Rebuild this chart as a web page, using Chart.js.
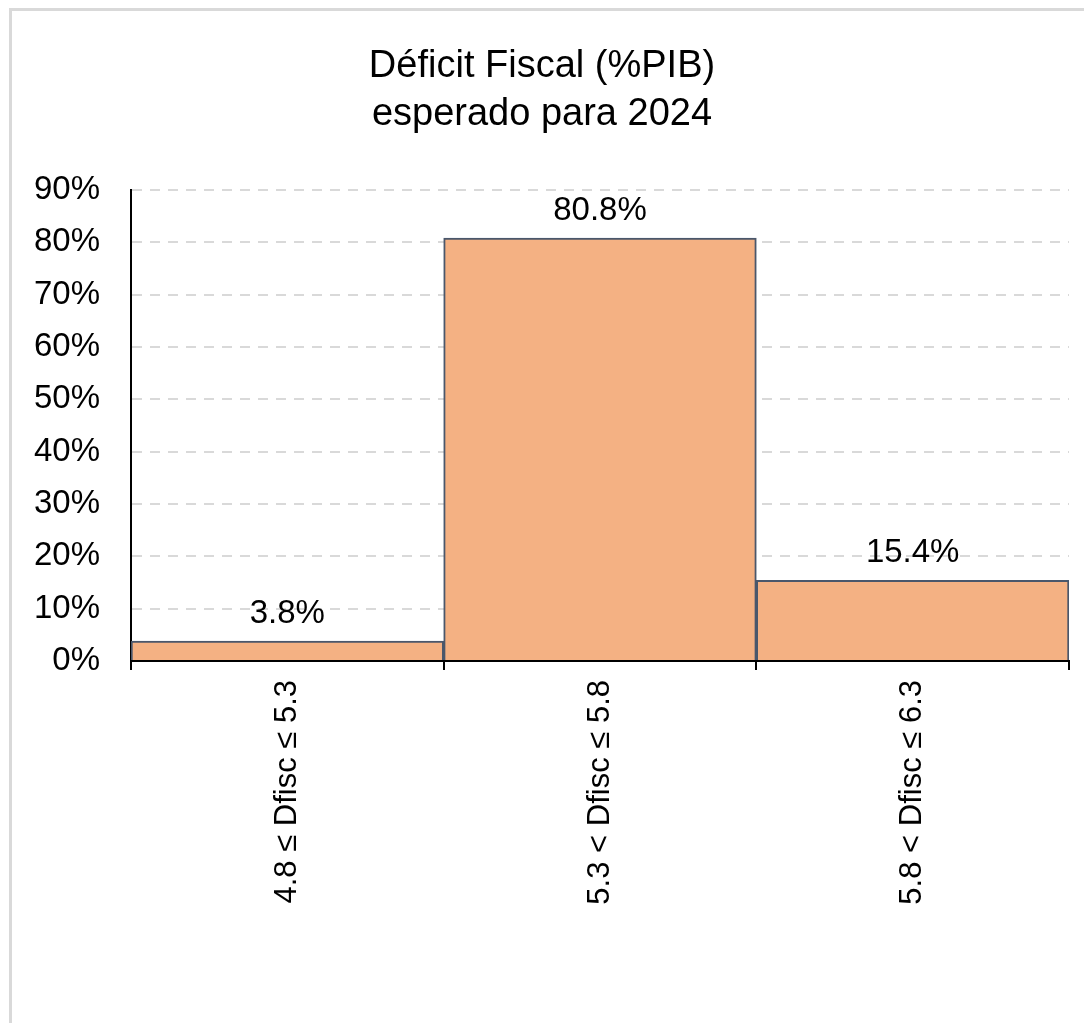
<!DOCTYPE html>
<html>
<head>
<meta charset="utf-8">
<script src="https://cdn.jsdelivr.net/npm/chart.js@4.4.1/dist/chart.umd.min.js"></script>
<style>
  body { margin: 0; background: #fff; }
  #frame { position: absolute; left: 9px; top: 8px; width: 1080px; height: 1020px;
           border-top: 3px solid #d9d9d9; border-left: 3px solid #d9d9d9; }
  #wrap { position: absolute; left: 0; top: 0; width: 1084px; height: 1023px; }
</style>
</head>
<body>
<div id="frame"></div>
<div id="wrap"><canvas id="myChart" width="1084" height="1023"></canvas></div>
<script>
var categories = ['4.8 \u2264 Dfisc \u2264 5.3', '5.3 < Dfisc \u2264 5.8', '5.8 < Dfisc \u2264 6.3'];
var shares = [3.8, 80.8, 15.4];
var yTicks = [0, 10, 20, 30, 40, 50, 60, 70, 80, 90];
var titleLines = ['D\u00e9ficit Fiscal (%PIB)', 'esperado para 2024'];

var FONT = "'Liberation Sans', Arial, sans-serif";

// labels above the bars
var barLabels = {
  id: 'barLabels',
  afterDatasetsDraw: function(chart) {
    var c = chart.ctx;
    var meta = chart.getDatasetMeta(0);
    c.save();
    c.font = '33px ' + FONT;
    c.fillStyle = '#000';
    c.textAlign = 'center';
    c.textBaseline = 'alphabetic';
    meta.data.forEach(function(bar, i) {
      c.fillText(shares[i].toFixed(1) + '%', bar.x, bar.y - 18);
    });
    c.restore();
  }
};

var ctx = document.getElementById('myChart').getContext('2d');
var myChart = new Chart(ctx, {
  type: 'bar',
  data: {
    labels: categories,
    datasets: [{
      label: 'Déficit',
      data: shares,
      backgroundColor: '#F4B183',
      borderColor: '#4A576B',
      borderWidth: 2,
      categoryPercentage: 1,
      barPercentage: 1
    }]
  },
  options: {
    responsive: false,
    animation: false,
    layout: { padding: { left: 15, right: 15, top: 0, bottom: 0 } },
    plugins: {
      legend: { display: false },
      tooltip: { enabled: false },
      title: {
        display: true,
        text: titleLines,
        color: '#000',
        font: { family: FONT, size: 38, weight: 'normal', lineHeight: 1.263 },
        padding: { top: 43, bottom: 51 }
      }
    },
    scales: {
      x: {
        offset: true,
        grid: { display: true, drawOnChartArea: false, drawTicks: true, tickLength: 9, color: '#000', lineWidth: 2, offset: true },
        border: { display: true, color: '#000', width: 2 },
        ticks: { color: '#000', font: { family: FONT, size: 31 }, minRotation: 90, maxRotation: 90, autoSkip: false, padding: 10 },
        afterFit: function(s) { s.height = 362; }
      },
      y: {
        min: 0,
        max: 90,
        afterBuildTicks: function(s) { s.ticks = yTicks.map(function(v) { return { value: v }; }); },
        grid: { color: '#d9d9d9', lineWidth: 2, drawTicks: false },
        border: { display: true, color: '#000', width: 2, dash: [10, 8] },
        ticks: { color: '#000', font: { family: FONT, size: 33 }, padding: 31,
                 callback: function(v) { return v + '%'; } },
        afterFit: function(s) { s.width = 116; }
      }
    }
  },
  plugins: [barLabels]
});
</script>
</body>
</html>
